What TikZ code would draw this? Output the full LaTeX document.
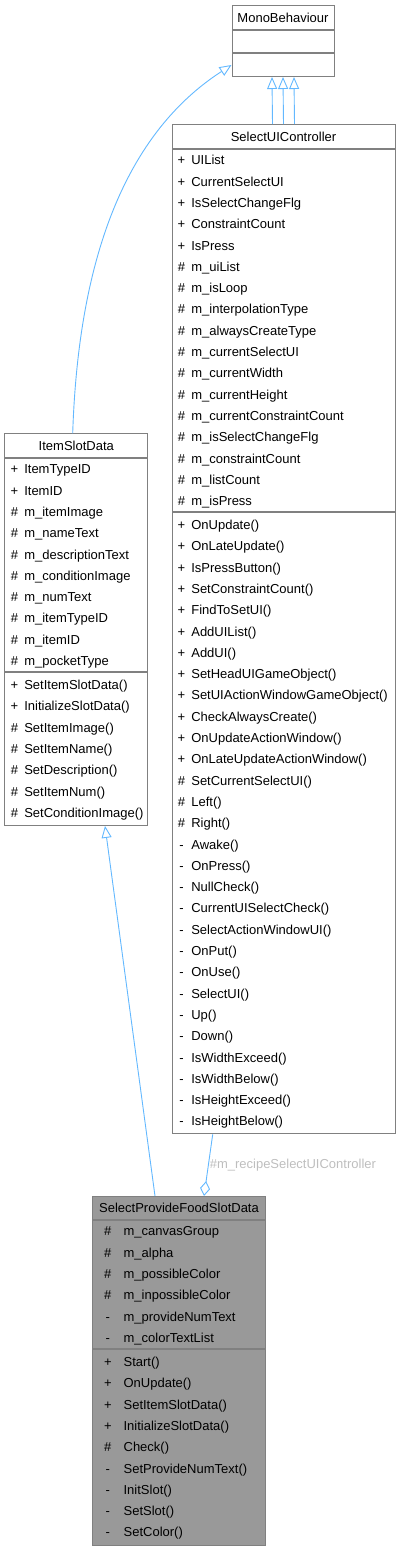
\documentclass[tikz,border=0pt]{standalone}
\usepackage{fontspec}
\setmainfont{Liberation Sans}
\usetikzlibrary{arrows.meta,positioning}

\definecolor{edgeblue}{HTML}{63B8FF}
\definecolor{boxline}{HTML}{808080}
\definecolor{boxgray}{HTML}{999999}
\definecolor{lblgray}{HTML}{BEBEBE}

\newlength\viswd
\setlength\viswd{11pt}
\newcommand\classfont{\fontsize{13}{21.3}\selectfont}
\newcommand\rowstrut{\rule[-6.3pt]{0pt}{21.3pt}}
\newcommand\mbr[2]{\noindent\rowstrut\makebox[\viswd][c]{#1}~\mbox{#2}}

\tikzset{
  classbox/.style={draw=boxline, line width=1pt, fill=white, inner xsep=4pt, inner ysep=0pt, font=\classfont},
  classtitle/.style={classbox, text width=#1, align=center},
  classpart/.style={classbox, text width=#1, align=left},
  focus/.style={fill=boxgray, font=\classfont\setlength\viswd{23pt}},
  inherit/.style={draw=edgeblue, line width=0.9pt, -{Triangle[open,length=12pt,width=10pt]}},
  aggr/.style={draw=edgeblue, line width=0.9pt, -{Diamond[open,length=15pt,width=10pt]}},
  memberlbl/.style={text=lblgray, font=\classfont, inner sep=1pt}
}

\begin{document}
\begin{tikzpicture}[x=1pt, y=-1pt]
\useasboundingbox (0,0) rectangle (400,1548);

% base class
\node[classtitle=94pt, minimum height=24.3pt, anchor=north] (MBt) at (283,5) {MonoBehaviour};
\node[classpart=94pt, minimum height=21.7pt, below=0pt of MBt] (MBa) {};
\node[classpart=94pt, minimum height=23pt, below=0pt of MBa] (MBm) {};

% SelectUIController
\node[classtitle=215pt, minimum height=24.3pt, anchor=north] (SUCt) at (283.5,124) {SelectUIController};
\node[classpart=215pt, minimum height=362.1pt, below=0pt of SUCt] (SUCa) {\mbr{+}{UIList}\\
  \mbr{+}{CurrentSelectUI}\\ \mbr{+}{IsSelectChangeFlg}\\ \mbr{+}{ConstraintCount}\\
  \mbr{+}{IsPress}\\ \mbr{\#}{m\_uiList}\\ \mbr{\#}{m\_isLoop}\\ \mbr{\#}{m\_interpolationType}\\
  \mbr{\#}{m\_alwaysCreateType}\\ \mbr{\#}{m\_currentSelectUI}\\ \mbr{\#}{m\_currentWidth}\\
  \mbr{\#}{m\_currentHeight}\\ \mbr{\#}{m\_currentConstraintCount}\\ \mbr{\#}{m\_isSelectChangeFlg}\\
  \mbr{\#}{m\_constraintCount}\\ \mbr{\#}{m\_listCount}\\ \mbr{\#}{m\_isPress}};
\node[classpart=215pt, minimum height=621pt, below=0pt of SUCa] (SUCm) {\mbr{+}{OnUpdate()}\\
  \mbr{+}{OnLateUpdate()}\\ \mbr{+}{IsPressButton()}\\ \mbr{+}{SetConstraintCount()}\\
  \mbr{+}{FindToSetUI()}\\ \mbr{+}{AddUIList()}\\ \mbr{+}{AddUI()}\\ \mbr{+}{SetHeadUIGameObject()}\\
  \mbr{+}{SetUIActionWindowGameObject()}\\ \mbr{+}{CheckAlwaysCreate()}\\ \mbr{+}{OnUpdateActionWindow()}\\
  \mbr{+}{OnLateUpdateActionWindow()}\\ \mbr{\#}{SetCurrentSelectUI()}\\ \mbr{\#}{Left()}\\
  \mbr{\#}{Right()}\\ \mbr{-}{Awake()}\\ \mbr{-}{OnPress()}\\ \mbr{-}{NullCheck()}\\
  \mbr{-}{CurrentUISelectCheck()}\\ \mbr{-}{SelectActionWindowUI()}\\ \mbr{-}{OnPut()}\\
  \mbr{-}{OnUse()}\\ \mbr{-}{SelectUI()}\\ \mbr{-}{Up()}\\ \mbr{-}{Down()}\\ \mbr{-}{IsWidthExceed()}\\
  \mbr{-}{IsWidthBelow()}\\ \mbr{-}{IsHeightExceed()}\\ \mbr{-}{IsHeightBelow()}};

% ItemSlotData
\node[classtitle=134.7pt, minimum height=24pt, anchor=north] (ISDt) at (76.3,433.3) {ItemSlotData};
\node[classpart=134.7pt, minimum height=213pt, below=0pt of ISDt] (ISDa) {\mbr{+}{ItemTypeID}\\
  \mbr{+}{ItemID}\\ \mbr{\#}{m\_itemImage}\\ \mbr{\#}{m\_nameText}\\ \mbr{\#}{m\_descriptionText}\\
  \mbr{\#}{m\_conditionImage}\\ \mbr{\#}{m\_numText}\\ \mbr{\#}{m\_itemTypeID}\\
  \mbr{\#}{m\_itemID}\\ \mbr{\#}{m\_pocketType}};
\node[classpart=134.7pt, minimum height=152.6pt, below=0pt of ISDa] (ISDm) {\mbr{+}{SetItemSlotData()}\\
  \mbr{+}{InitializeSlotData()}\\ \mbr{\#}{SetItemImage()}\\ \mbr{\#}{SetItemName()}\\
  \mbr{\#}{SetDescription()}\\ \mbr{\#}{SetItemNum()}\\ \mbr{\#}{SetConditionImage()}};

% SelectProvideFoodSlotData
\node[classtitle=165.4pt, focus, minimum height=23.3pt, anchor=north] (SPFt) at (179,1196) {SelectProvideFoodSlotData};
\node[classpart=165.4pt, focus, minimum height=127.8pt, below=0pt of SPFt] (SPFa) {\mbr{\#}{m\_canvasGroup}\\
  \mbr{\#}{m\_alpha}\\ \mbr{\#}{m\_possibleColor}\\ \mbr{\#}{m\_inpossibleColor}\\
  \mbr{-}{m\_provideNumText}\\ \mbr{-}{m\_colorTextList}};
\node[classpart=165.4pt, focus, minimum height=195.6pt, below=0pt of SPFa] (SPFm) {\mbr{+}{Start()}\\
  \mbr{+}{OnUpdate()}\\ \mbr{+}{SetItemSlotData()}\\ \mbr{+}{InitializeSlotData()}\\
  \mbr{\#}{Check()}\\ \mbr{-}{SetProvideNumText()}\\ \mbr{-}{InitSlot()}\\ \mbr{-}{SetSlot()}\\
  \mbr{-}{SetColor()}};

% relations
\path ([xshift=-11pt]SUCt.north) edge[inherit] ([xshift=-11pt]MBm.south)
  (SUCt.north) edge[inherit] (MBm.south)
  ([xshift=11pt]SUCt.north) edge[inherit] ([xshift=11pt]MBm.south);
\draw[inherit] ([xshift=-3.6pt]ISDt.north) .. controls +(5.3,-163) and +(-112,72.5) .. (MBm.west);
\path ([xshift=-24pt]SPFt.north) edge[inherit] ([xshift=28.7pt]ISDm.south);
\draw[aggr] ([xshift=-70.8pt]SUCm.south) -- node[memberlbl, pos=0.5, anchor=west] {\#m\_recipeSelectUIController} ([xshift=25pt]SPFt.north);
\end{tikzpicture}
\end{document}
